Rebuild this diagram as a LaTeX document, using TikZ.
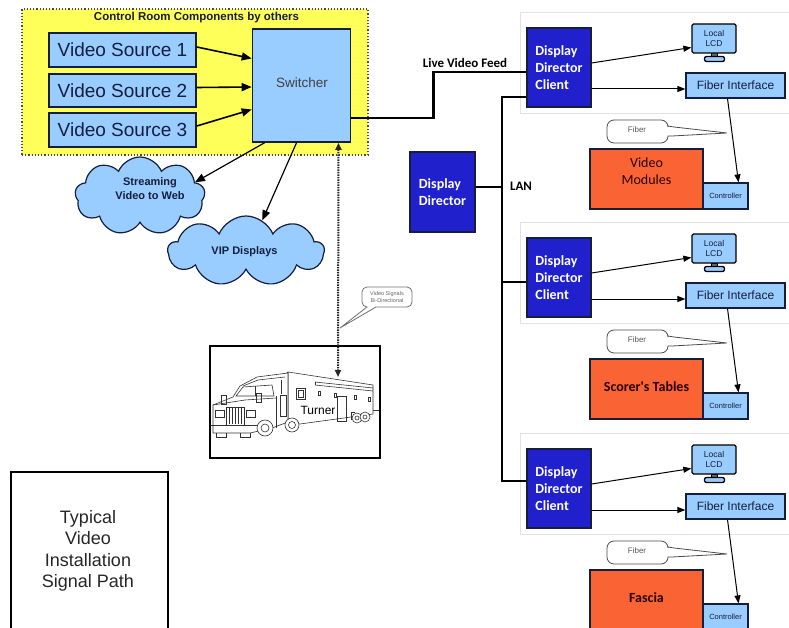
\documentclass[tikz,border=0pt]{standalone}
\usepackage{fontspec}
\setmainfont{Liberation Sans}
\newfontfamily\calibri{Carlito}
\usetikzlibrary{shapes.symbols,arrows.meta}

\definecolor{ctrlyellow}{RGB}{255,255,90}
\definecolor{boxblue}{RGB}{153,204,255}
\definecolor{ddblue}{RGB}{32,32,205}
\definecolor{modorange}{RGB}{250,100,52}
\definecolor{navy}{RGB}{22,30,62}
\definecolor{panelgray}{RGB}{226,226,226}

\begin{document}
\begin{tikzpicture}[x=1pt,y=-1pt,
  sz/.style 2 args={minimum width=#1, minimum height=#2, inner sep=0pt},
  srcbox/.style={draw=navy, line width=1.6pt, fill=boxblue, text=navy,
    font=\fontsize{19}{22}\selectfont},
  ddbox/.style={draw=navy, line width=1.2pt, fill=ddblue, text=white, align=left,
    font=\calibri\bfseries\fontsize{14}{17}\selectfont},
  panel/.style={draw=panelgray, fill=white, line width=0.8pt},
  lcdbox/.style={draw=black, line width=1.3pt, fill=boxblue, rounded corners=1.5pt,
    text=navy, align=center, font=\fontsize{8.5}{10}\selectfont},
  fibox/.style={draw=navy, line width=1.2pt, fill=boxblue, text=navy,
    font=\fontsize{12}{14}\selectfont},
  ctlbox/.style={draw=navy, line width=1.2pt, fill=boxblue, text=navy,
    font=\fontsize{7.5}{9}\selectfont},
  modbox/.style={draw=navy, line width=1.2pt, fill=modorange},
  modtext/.style={text=black!85!red, align=center, font=\calibri\fontsize{14}{17}\selectfont},
  cloudbox/.style={cloud, cloud puffs=9, cloud puff arc=135, cloud ignores aspect,
    draw=navy, line width=1.2pt, fill=boxblue, inner sep=0pt},
  cloudtext/.style={text=navy, align=center, font=\bfseries\fontsize{11}{14}\selectfont},
  arr/.style={-{Triangle[length=10pt,width=8pt]}, line width=1.6pt, draw=black},
  parr/.style={-{Triangle[length=8pt,width=6pt]}, line width=1pt, draw=black},
  bus/.style={line width=2.6pt, draw=black},
  dotarr/.style={{Triangle[length=7pt,width=6pt]}-{Triangle[length=7pt,width=6pt]},
    line width=2pt, dash pattern=on 1.5pt off 1pt, draw=black!85},
  callout/.style={draw=black!55, fill=white, line width=0.8pt},
  truckline/.style={draw=black!80, line width=0.6pt},
  lbl/.style={text=black, font=\calibri\bfseries\fontsize{13}{15}\selectfont}
]
\useasboundingbox (0,0) rectangle (789,628);

% ---------- control room ----------
\node[draw=black!70, dotted, line width=1.2pt, fill=ctrlyellow, sz={346}{146}]
  (ctrlroom) at (195,82) {};
\node[text=navy, font=\bfseries\fontsize{11.5}{13}\selectfont] (ctrltitle) at (196.5,18)
  {Control Room Components by others};

\node[srcbox, sz={147}{34}] (vs1) at (122.5,50) {Video Source 1};
\node[srcbox, sz={147}{33}] (vs2) at (122.5,90.5) {Video Source 2};
\node[srcbox, sz={147}{34}] (vs3) at (122.5,130) {Video Source 3};
\node[srcbox, sz={98}{113}, font=\fontsize{13.5}{16}\selectfont, text=black!75]
  (sw) at (301.5,85.5) {};
\node[text=black!75, font=\fontsize{13.5}{16}\selectfont] (swlbl) at (302,83) {Switcher};

\draw[arr] ([yshift=3pt]vs1.east) -- ([yshift=27pt]sw.west);
\draw[arr] ([yshift=3pt]vs2.east) -- ([yshift=-1.5pt]sw.west);
\draw[arr] ([yshift=4pt]vs3.east) -- ([yshift=-24pt]sw.west);

% ---------- clouds ----------
\node[cloudbox, minimum width=130pt, minimum height=78pt] (stream) at (140,196) {};
\node[cloudtext] (streamlbl) at (150,189) {Streaming\\Video to Web};
\node[cloudbox, minimum width=156pt, minimum height=70pt] (vip) at (246,251) {};
\node[cloudtext] (viplbl) at (244.5,252) {VIP Displays};

\draw[arr, line width=1.2pt] ([xshift=-37pt]sw.south) -- (stream.14);
\draw[arr, line width=1.2pt] ([xshift=-5pt]sw.south) -- (vip.62);

% ---------- truck ----------
\node[draw=black, line width=1.6pt, sz={170}{112}] (truckbox) at (295,402) {};
\coordinate (trucktop) at (338,377);
\draw[dotarr] ([xshift=37pt]sw.south) -- (trucktop);

% ground stubs
\draw[truckline] (211,425) -- (216,425);
\draw[truckline] (373,410) -- (379,410);
% trailer body
\draw[truckline, fill=white] (288,372) -- (373,385) -- (373,414) -- (300,424) -- (288,422) -- cycle;
\draw[truckline] (284,375) -- (288,372);
\draw[truckline] (315,382) -- (373,388) (315,385) -- (373,391);
\draw[truckline] (315,382) -- (315,385);
\foreach \wx/\wy in {318/391, 334/393, 354/395, 368/397}
  \draw[truckline] (\wx,\wy) rectangle ++(2,4);
\draw[truckline] (296,388) rectangle (305,399);
\draw[truckline] (298,390) rectangle (303,397);
\draw[truckline] (337,396) rectangle (346,421);
\draw[truckline] (351,420) -- (351,412) -- (355,412);
\draw[truckline, fill=white] (357,418) circle (5);
\draw[truckline, fill=white] (365,417) circle (5);
\draw[truckline] (357,418) circle (2) (365,417) circle (2);
% cab and sleeper
\draw[truckline, fill=white] (240,386) -- (257,377) -- (288,373) -- (288,422) -- (272,428)
  -- (250,433) -- (213,433) -- (213,405) -- (233,397) -- cycle;
\draw[truckline] (243,386) -- (258,380) -- (285,377);
\draw[truckline] (236,396) -- (243,387) -- (272,385) -- (274,396) -- cycle;
\draw[truckline] (255,386) -- (255,396);
\draw[truckline] (213,405) -- (245,400) -- (276,398);
\draw[truckline] (276,396) -- (276,428);
\draw[truckline] (280,395) rectangle (286,416);
\draw[truckline] (281,380) -- (281,394);
\draw[truckline] (226,407) rectangle (244,425);
\foreach \gx in {229,232,235,238,241}
  \draw[truckline, line width=0.4pt] (\gx,408) -- (\gx,424);
\draw[truckline] (215,410) rectangle (224,417);
\draw[truckline] (246,410) rectangle (255,417);
\draw[truckline] (221,395) rectangle (226,404);
\draw[truckline] (256,393) rectangle (261,402);
\draw[truckline] (213,425) -- (258,425);
\draw[truckline] (216,433) -- (216,437) -- (226,437) -- (226,433);
\draw[truckline] (240,433) -- (240,437) -- (250,437) -- (250,433);
\draw[truckline, fill=white] (265,428) circle (8);
\draw[truckline] (265,428) circle (4);
\draw[truckline, fill=white] (292,425) circle (7);
\draw[truckline] (292,425) circle (3.5);
\node[text=black, font=\fontsize{12}{14}\selectfont] (turner) at (318,410) {Turner};

% callout on the dotted link
\draw[callout] (340,328) -- (376,307) [rounded corners=5pt] -- (412,307) -- (412,287)
  -- (362,287) -- (362,307) [sharp corners] -- (367,307) -- cycle;
\node[text=black!60, align=center, font=\fontsize{5.5}{6.5}\selectfont] (sigtext) at (387,297)
  {Video Signals\\Bi-Directional};

% ---------- title box ----------
\node[draw=black, line width=1.6pt, sz={157}{175}, anchor=north west] (titlebox) at (10,471) {};
\node[align=center, text=black!85, font=\fontsize{18}{21.5}\selectfont] (titletext) at (88,551)
  {Typical\\Video\\Installation\\Signal Path};

% ---------- display director ----------
\node[ddbox, sz={65}{80}] (dd) at (442.5,192) {Display\\Director};

% ---------- client panels ----------
\foreach \i/\dy/\ty/\lab in {1/0/171.5/{Video\\Modules},
                             2/210/177/{\bfseries Scorer's Tables},
                             3/421/177/{\bfseries Fascia}}{
  \node[panel, sz={290}{101}, anchor=north west] (pnl\i) at (520,12+\dy) {};
  \node[ddbox, sz={64}{79}] (ddc\i) at (559,67.5+\dy) {Display\\Director\\Client};
  % monitor
  \draw[draw=black, line width=1pt, fill=black!60] (711.5,53+\dy) rectangle (717.5,56.5+\dy);
  \draw[draw=black, line width=1.3pt, fill=boxblue, rounded corners=2pt]
    (704.5,56.5+\dy) rectangle (724.5,61.5+\dy);
  \node[lcdbox, sz={44}{29}] (lcd\i) at (714,38.5+\dy) {Local\\LCD};
  \node[fibox, sz={99}{25}] (fi\i) at (735.5,85.5+\dy) {Fiber Interface};
  % fiber callout
  \draw[callout, draw=black!70] (727,133+\dy) -- (672,136+\dy) -- (668,136+\dy)
    [rounded corners=7pt] -- (668,143+\dy) -- (607,143+\dy) -- (607,120+\dy) -- (668,120+\dy)
    [sharp corners] -- (668,126+\dy) -- (674,127+\dy) -- cycle;
  \node[text=black!65, font=\fontsize{8}{9}\selectfont] (fibtext\i) at (637,130+\dy) {Fiber};
  % display modules
  \node[modbox, sz={113}{60}] (mod\i) at (646.5,179+\dy) {};
  \node[modtext] (modlbl\i) at (646.5,\ty+\dy) {\lab};
  \node[ctlbox, sz={45}{26}] (ctl\i) at (725.5,196+\dy) {Controller};
  % links inside the panel
  \draw[parr] ([yshift=4.5pt]ddc\i.east) -- ([yshift=-9pt]lcd\i.west);
  \draw[parr] ([yshift=-21.5pt]ddc\i.east) -- ([yshift=-3.5pt]fi\i.west);
  \draw[parr] ([xshift=-8pt]fi\i.south) -- ([xshift=13pt]ctl\i.north);
}

% ---------- live feed and LAN ----------
\draw[bus] ([yshift=-32.5pt]sw.east) -- ++(82,0) |- ([yshift=-4.5pt]ddc1.west);
\node[lbl] (feedlbl) at (465,63) {Live Video Feed};

\coordinate (busx) at (502,97);
\draw[bus] ([yshift=-29.5pt]ddc1.west) -| (busx) |- ([yshift=7.5pt]ddc3.west);
\coordinate (br2) at ([yshift=-4.5pt]ddc2.west);
\draw[bus] (br2) -- (br2 -| busx);
\coordinate (lanin) at ([yshift=5pt]dd.east);
\draw[bus] (lanin) -- (lanin -| busx);
\node[lbl] (lanlbl) at (521,186) {LAN};

\end{tikzpicture}
\end{document}
